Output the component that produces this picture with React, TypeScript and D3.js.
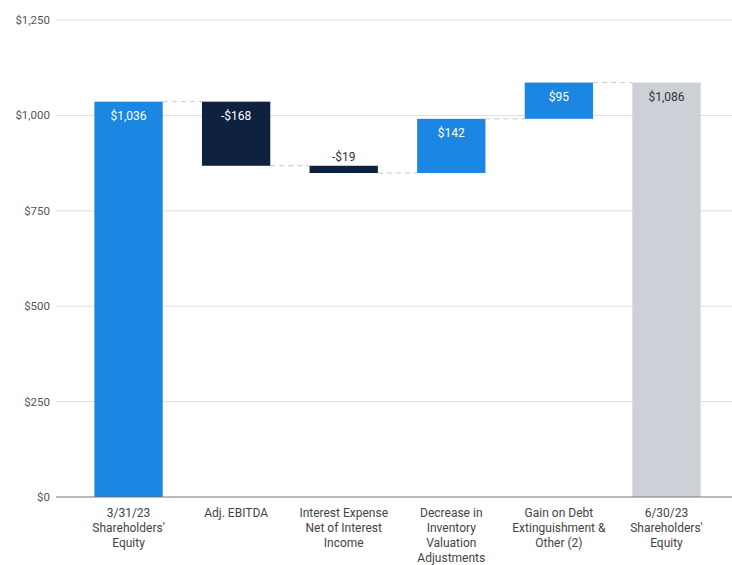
import React from "react";
import * as d3 from "d3";

const categories: string[][] = [
  ["3/31/23", "Shareholders'", "Equity"],
  ["Adj. EBITDA"],
  ["Interest Expense", "Net of Interest", "Income"],
  ["Decrease in", "Inventory", "Valuation", "Adjustments"],
  ["Gain on Debt", "Extinguishment &", "Other (2)"],
  ["6/30/23", "Shareholders'", "Equity"],
];
const deltas = [1036, -168, -19, 142, 95, 1086];
const kinds = ["total", "delta", "delta", "delta", "delta", "final"];
const yTicks = [0, 250, 500, 750, 1000, 1250];

const W = 732;
const H = 565;

export default function App() {
  const x = d3
    .scaleBand<number>()
    .domain(d3.range(categories.length))
    .range([75, 720])
    .paddingInner(0.365)
    .paddingOuter(0.18);
  const y = d3.scaleLinear().domain([0, 1250]).range([497, 20]);

  let run = 0;
  const bars = deltas.map((v, i) => {
    let lo: number, hi: number;
    if (kinds[i] === "total" || kinds[i] === "final") {
      lo = 0;
      hi = v;
      run = v;
    } else {
      const prev = run;
      run = prev + v;
      lo = Math.min(prev, run);
      hi = Math.max(prev, run);
    }
    return { i, v, lo, hi, end: run };
  });

  const fill = (i: number, v: number) =>
    kinds[i] === "final" ? "#cdd1d7" : v < 0 ? "#0e2240" : "#1b87e3";
  const fmt = (v: number) =>
    (v < 0 ? "-$" : "$") + d3.format(",")(Math.abs(v));

  const bw = x.bandwidth();

  return (
    <svg
      width={W}
      height={H}
      style={{ position: "absolute", left: 0, top: 0, fontFamily: "Roboto, sans-serif" }}
    >
      <rect width={W} height={H} fill="#fff" />
      {yTicks.map((t) => (
        <g key={t}>
          {t > 0 && (
            <line x1={56} x2={732} y1={y(t)} y2={y(t)} stroke="#dedede" strokeWidth={1} />
          )}
          <text
            x={50}
            y={y(t)}
            dy="0.35em"
            textAnchor="end"
            fontSize={11.5}
            fill="#555"
          >
            {"$" + d3.format(",")(t)}
          </text>
        </g>
      ))}
      {bars.slice(0, -1).map((b, k) => {
        const nb = bars[k + 1];
        const level = b.end;
        return (
          <line
            key={"c" + k}
            x1={(x(b.i) as number) + bw}
            x2={x(nb.i) as number}
            y1={y(level)}
            y2={y(level)}
            stroke="#c8c8c8"
            strokeDasharray="5,4"
            strokeWidth={1}
          />
        );
      })}
      {bars.map((b) => (
        <rect
          key={"b" + b.i}
          x={x(b.i)}
          width={bw}
          y={y(b.hi)}
          height={y(b.lo) - y(b.hi)}
          fill={fill(b.i, b.v)}
        />
      ))}
      <line x1={56} x2={732} y1={y(0)} y2={y(0)} stroke="#777" strokeWidth={1.2} />
      {bars.map((b) => {
        const small = y(b.lo) - y(b.hi) < 20;
        const cx = (x(b.i) as number) + bw / 2;
        const ty = small ? y(b.hi) - 5 : y(b.hi) + 18;
        const col = small || kinds[b.i] === "final" ? "#333" : "#fff";
        return (
          <text
            key={"l" + b.i}
            x={cx}
            y={ty}
            textAnchor="middle"
            fontSize={12}
            fill={col}
          >
            {fmt(b.v)}
          </text>
        );
      })}
      {categories.map((lines, i) => (
        <text
          key={"x" + i}
          x={(x(i) as number) + bw / 2}
          textAnchor="middle"
          fontSize={12}
          fill="#444"
        >
          {lines.map((ln, j) => (
            <tspan key={j} x={(x(i) as number) + bw / 2} y={517 + j * 15}>
              {ln}
            </tspan>
          ))}
        </text>
      ))}
    </svg>
  );
}
